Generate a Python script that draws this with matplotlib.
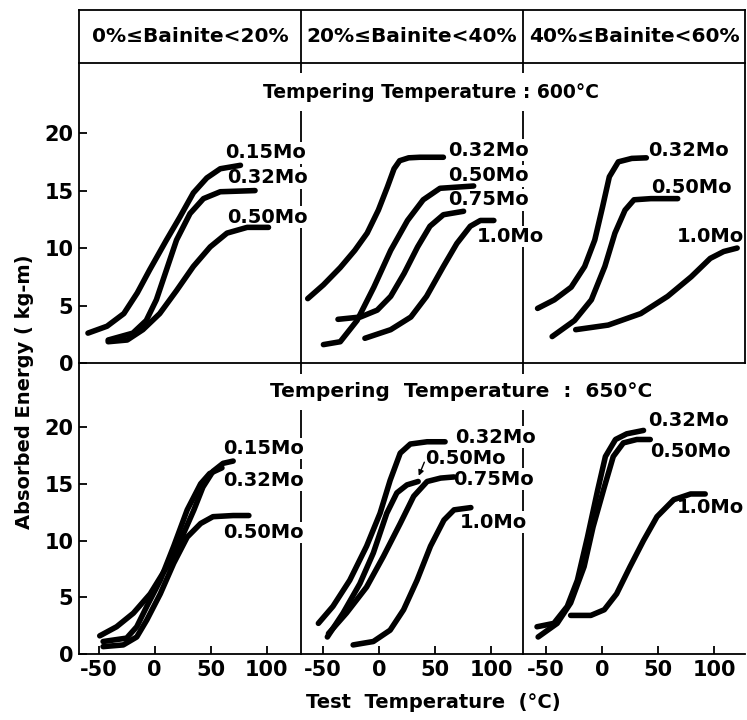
import matplotlib.pyplot as plt

W, H = 747, 720

headers = ["0%≤Bainite<20%", "20%≤Bainite<40%", "40%≤Bainite<60%"]
titles = ["Tempering Temperature : 600°C", "Tempering  Temperature  :  650°C"]
yticks = [0, 5, 10, 15, 20]
xticks = [-50, 0, 50, 100]

# curves: (label, test temperature °C, absorbed energy kg-m)
t600_b0 = [
    ("0.15Mo", [-56, -39, -24, -12, -1, 14, 26, 38, 50, 62, 80],
     [2.6, 3.2, 4.3, 6.1, 8.1, 10.7, 12.7, 14.8, 16.1, 16.9, 17.2]),
    ("0.32Mo", [-38, -16, -4, 5, 14, 23, 35, 47, 62, 93],
     [2.0, 2.6, 3.7, 5.5, 8.1, 10.7, 13.0, 14.3, 14.9, 15.0]),
    ("0.50Mo", [-38, -21, -7, 8, 23, 38, 53, 68, 86, 105],
     [1.85, 2.0, 2.9, 4.3, 6.3, 8.4, 10.1, 11.3, 11.8, 11.8]),
]
t600_b20 = [
    ("0.32Mo", [-60, -46, -31, -18, -7, 3, 11, 17, 22, 30, 40, 61],
     [5.6, 6.8, 8.3, 9.8, 11.3, 13.3, 15.3, 16.9, 17.6, 17.85, 17.9, 17.9]),
    ("0.50Mo", [-46, -31, -16, -1, 14, 29, 43, 58, 88],
     [1.6, 1.85, 3.7, 6.6, 9.8, 12.4, 14.2, 15.2, 15.4]),
    ("0.75Mo", [-33, -13, 2, 14, 26, 38, 49, 61, 79],
     [3.8, 4.0, 4.6, 5.8, 7.8, 10.1, 11.9, 12.9, 13.2]),
    ("1.0Mo", [-9, 14, 32, 46, 61, 73, 85, 94, 106],
     [2.15, 2.9, 4.0, 5.8, 8.4, 10.4, 11.9, 12.4, 12.4]),
]
t600_b40 = [
    ("0.32Mo", [-54, -39, -24, -12, -3, 4, 10, 18, 30, 43],
     [4.75, 5.5, 6.6, 8.4, 10.7, 13.6, 16.2, 17.5, 17.8, 17.85]),
    ("0.50Mo", [-41, -21, -6, 6, 15, 24, 32, 47, 71],
     [2.3, 3.7, 5.5, 8.4, 11.3, 13.3, 14.2, 14.3, 14.3]),
    ("1.0Mo", [-20, 9, 38, 62, 83, 100, 112, 124],
     [2.9, 3.3, 4.3, 5.8, 7.5, 9.1, 9.7, 10.0]),
]
t650_b0 = [
    ("0.15Mo", [-49, -34, -19, -4, 11, 23, 35, 43, 52, 61, 70],
     [1.6, 2.4, 3.6, 5.3, 7.7, 10.0, 12.7, 14.7, 16.1, 16.8, 17.0]),
    ("0.32Mo", [-46, -25, -16, -7, 5, 17, 29, 41, 49, 60],
     [1.1, 1.4, 2.4, 4.2, 6.5, 9.5, 12.7, 15.0, 15.9, 16.4]),
    ("0.50Mo", [-46, -28, -16, -7, 5, 17, 29, 41, 52, 70, 84],
     [0.65, 0.8, 1.5, 3.0, 5.3, 8.0, 10.3, 11.5, 12.1, 12.2, 12.2]),
]
t650_b20 = [
    ("0.32Mo", [-54, -41, -26, -11, 1, 10, 19, 28, 43, 59],
     [2.7, 4.2, 6.5, 9.5, 12.4, 15.3, 17.7, 18.5, 18.7, 18.7]),
    ("0.50Mo", [-46, -32, -17, -5, 7, 16, 25, 35],
     [1.5, 3.6, 6.2, 8.9, 12.4, 14.2, 14.9, 15.2]),
    ("0.75Mo", [-45, -29, -11, 4, 19, 31, 43, 55, 67],
     [1.8, 3.6, 5.9, 8.6, 11.5, 13.9, 15.2, 15.5, 15.6]),
    ("1.0Mo", [-23, -5, 10, 22, 34, 46, 58, 67, 82],
     [0.8, 1.1, 2.1, 3.9, 6.5, 9.5, 11.8, 12.7, 12.9]),
]
t650_b40 = [
    ("0.32Mo", [-58, -43, -31, -22, -13, -4, 3, 12, 22, 37],
     [2.4, 2.7, 4.2, 6.5, 10.3, 14.4, 17.4, 18.9, 19.4, 19.7]),
    ("0.50Mo", [-57, -40, -28, -16, -8, 2, 10, 19, 31, 43],
     [1.5, 2.7, 4.5, 7.7, 11.2, 14.7, 17.4, 18.6, 18.9, 18.9]),
    ("1.0Mo", [-28, -10, 2, 13, 25, 37, 49, 64, 79, 92],
     [3.4, 3.4, 3.9, 5.3, 7.7, 10.0, 12.1, 13.6, 14.1, 14.1]),
]

# where the curve labels sit (data coords of the left end of each label)
lab600 = [
    [(66, 18.3), (68, 16.1), (68, 12.7)],
    [(65, 18.5), (65, 16.3), (65, 14.2), (91, 11.0)],
    [(45, 18.5), (47, 15.3), (70, 11.0)],
]
lab650 = [
    [(61, 18.1), (61, 15.3), (61, 10.7)],
    [(68, 19.1), (41, 17.2), (66, 15.4), (72, 11.6)],
    [(41, 20.6), (43, 17.8), (67, 12.9)],
]

plt.rcParams['font.family'] = ['DejaVu Sans']
plt.rcParams['font.weight'] = 'bold'
plt.rcParams['axes.unicode_minus'] = False
FS = 14
LW = 1.3


def rect(x0, y0, x1, y1):
    return [x0 / W, 1 - y1 / H, (x1 - x0) / W, (y1 - y0) / H]


fig = plt.figure(figsize=(W / 100, H / 100), dpi=100)

cols = [79, 301, 523, 745]

hx = fig.add_axes(rect(cols[0], 10, cols[3], 63))
hx.set_xlim(0, 3)
hx.set_ylim(0, 1)
hx.set_xticks([])
hx.set_yticks([])
for s in hx.spines.values():
    s.set_linewidth(LW)
for i, h in enumerate(headers):
    hx.text(i + 0.5, 0.5, h, ha='center', va='center', fontsize=14.5)
    if i:
        hx.axvline(i, color='k', lw=LW)

rows = [
    (63, 363, 26.1, [t600_b0, t600_b20, t600_b40], lab600, [-64, -66, -67]),
    (363, 654, 25.64, [t650_b0, t650_b20, t650_b40], lab650, [-67.5, -69.5, -70.5]),
]

for r, (y0, y1, ytop, panels, labels, xl) in enumerate(rows):
    for c in range(3):
        ax = fig.add_axes(rect(cols[c], y0, cols[c + 1], y1))
        ax.patch.set_visible(False)
        ax.set_xlim(xl[c], xl[c] + 198)
        ax.set_ylim(0, ytop)
        ax.spines['top'].set_visible(False)
        ax.spines['left'].set_visible(c == 0)
        ax.spines['right'].set_visible(r == 0 or c < 2)
        for s in ax.spines.values():
            s.set_linewidth(LW)
        ax.tick_params(direction='in', length=6, width=LW, labelsize=15, pad=4)
        if c == 0:
            ax.set_yticks(yticks)
        else:
            ax.set_yticks([])
        if r == 1:
            ax.set_xticks(xticks)
        else:
            ax.set_xticks([])

        # labels in the first two columns break the divider line on their right
        box = dict(facecolor='white', edgecolor='none', pad=1) if c < 2 else None
        for (name, t, e), (lx, ly) in zip(panels[c], labels[c]):
            ax.plot(t, e, color='k', lw=4, solid_capstyle='round',
                    solid_joinstyle='round', zorder=3)
            ax.text(lx, ly, name, fontsize=FS, ha='left', va='center', zorder=2.8,
                    bbox=box)

        if r == 1 and c == 1:
            ax.annotate('', xy=(35.5, 15.7), xytext=(40.5, 16.9),
                        arrowprops=dict(arrowstyle='-|>', color='k', lw=1,
                                        mutation_scale=8, shrinkA=0, shrinkB=0))

fig.text(431 / W, 1 - 92 / H, titles[0], ha='center', va='center', fontsize=13.5,
         bbox=dict(facecolor='white', edgecolor='none', pad=7))
fig.text(461 / W, 1 - 392 / H, titles[1], ha='center', va='center', fontsize=14.5,
         bbox=dict(facecolor='white', edgecolor='none', pad=6))
fig.text(25 / W, 1 - 392 / H, "Absorbed Energy ( kg-m)", rotation=90,
         ha='center', va='center', fontsize=14)
fig.text(433 / W, 1 - 703 / H, "Test  Temperature  (°C)", ha='center', va='center',
         fontsize=14)

fig.savefig("out.png", dpi=100)
